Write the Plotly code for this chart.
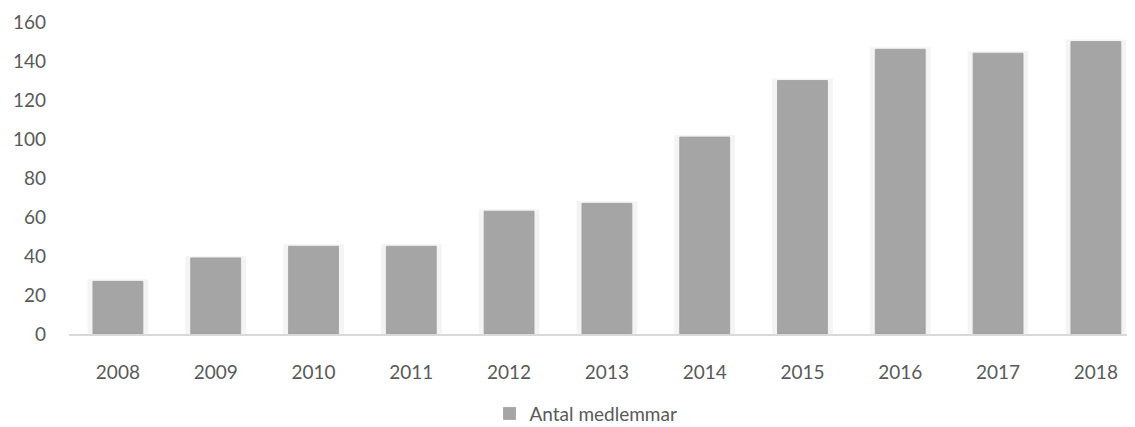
import plotly.graph_objects as go

years = ["2008", "2009", "2010", "2011", "2012", "2013", "2014", "2015", "2016", "2017", "2018"]
members = [27, 39, 45, 45, 63, 67, 101, 130, 146, 144, 150]
series_name = "Antal medlemmar"
y_ticks = [0, 20, 40, 60, 80, 100, 120, 140, 160]

font_family = "Lato, 'Open Sans', sans-serif"
text_color = "#595959"

fig = go.Figure()
# soft shadow behind bars
fig.add_trace(go.Bar(
    x=years, y=members, width=0.58,
    marker=dict(color="#f1f1f1", line=dict(color="#f4f4f4", width=4)),
    showlegend=False, hoverinfo="skip",
))
fig.add_trace(go.Bar(
    x=years, y=members, width=0.51, name=series_name,
    marker=dict(color="#a5a5a5", line=dict(color="#9e9e9e", width=0.8)),
))

fig.update_layout(
    width=1127, height=419,
    margin=dict(l=61, r=0, t=14, b=93, autoexpand=False),
    paper_bgcolor="white", plot_bgcolor="white",
    barmode="overlay",
    font=dict(family=font_family, size=19, color=text_color),
    showlegend=True,
    legend=dict(orientation="h", x=0.485, xanchor="center", y=-0.255, yanchor="middle",
                font=dict(size=19, color=text_color), itemwidth=30,
                tracegroupgap=0, borderwidth=0),
)
fig.update_xaxes(
    type="category", range=[-0.5, 10.4], automargin=False,
    showline=True, linecolor="#d9d9d9", linewidth=2,
    showgrid=False, ticks="", ticklabelstandoff=20,
    tickfont=dict(size=19, color=text_color),
)
fig.update_yaxes(
    range=[0, 160], tickvals=y_ticks, automargin=False,
    showgrid=False, zeroline=False, showline=False, ticks="",
    ticklabelstandoff=22,
    tickfont=dict(size=19, color=text_color),
)

fig.write_html("out.html")
